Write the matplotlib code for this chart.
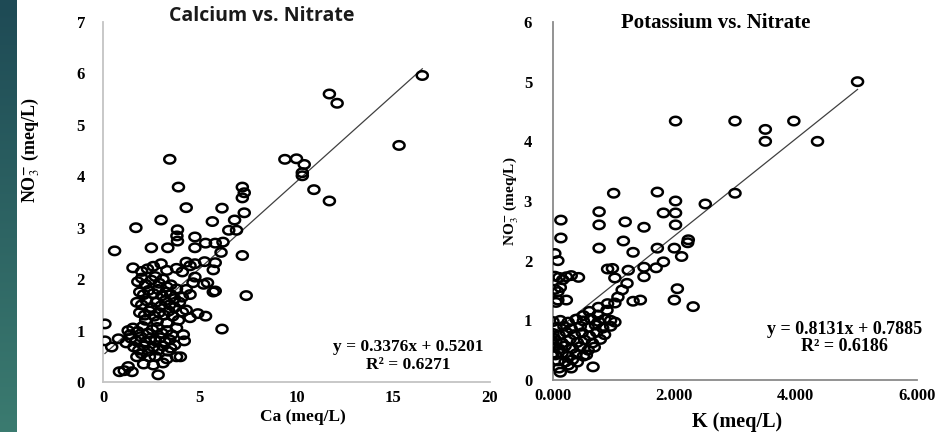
import numpy as np
import matplotlib
matplotlib.use("Agg")
import matplotlib.pyplot as plt
from matplotlib.path import Path

plt.rcParams['font.family'] = ['Liberation Serif', 'DejaVu Serif']
plt.rcParams['mathtext.fontset'] = 'stix'

# Calcium vs. Nitrate (meq/L)
ca = [16.5, 11.7, 12.1, 15.3, 9.4, 10.0, 10.4, 10.3, 10.3, 10.9, 11.7,
      3.45, 3.9, 7.2, 7.3, 7.2, 4.3, 6.15, 7.3, 3.0, 5.65, 6.8, 1.7,
      3.85, 3.82, 3.85, 6.5, 6.9, 4.75, 5.3, 5.8, 6.2,
      0.6, 2.5, 3.35, 4.75, 6.1, 7.2,
      4.3, 4.75, 5.25, 5.8, 4.5, 3.8, 1.55, 2.3, 3.3, 4.1, 5.7,
      4.75, 4.65, 5.2, 5.4, 3.5, 3.8, 5.8, 5.7, 7.4, 4.1,
      4.1, 4.5, 4.9, 5.3, 6.15, 4.15, 4.0,
      0.1, 0.1, 0.45, 0.8, 1.2, 1.75, 2.4, 3.5, 3.1, 3.8, 0.85, 1.1, 1.5, 2.85, 2.6, 1.3, 2.1, 3.3,
      1.8, 2.0, 2.2, 2.5, 2.7, 2.9, 3.1, 3.3, 1.9, 2.1, 2.35, 2.6, 2.85, 3.05, 3.25, 3.5, 3.7,
      1.75, 2.0, 2.25, 2.5, 2.75, 3.0, 3.2, 3.45, 3.7, 3.95, 1.9, 2.15, 2.4, 2.65, 2.9, 3.15,
      3.4, 3.6, 2.2, 2.8, 3.3, 3.9, 4.3, 4.3, 4.5, 2.0, 2.6, 3.0,
      1.3, 1.55, 1.8, 2.05, 2.3, 2.55, 2.8, 3.05, 3.3, 3.55, 1.45, 1.7, 1.95, 2.2, 2.45, 2.7,
      2.95, 3.2, 3.45, 1.6, 1.85, 2.1, 2.35, 2.6, 2.85, 3.1, 3.35, 3.7, 2.0, 2.7, 1.4, 3.8, 4.2]
no3_ca = [5.96, 5.6, 5.42, 4.6, 4.33, 4.34, 4.23, 4.07, 4.01, 3.74, 3.52,
          4.33, 3.79, 3.79, 3.68, 3.58, 3.39, 3.38, 3.29, 3.15, 3.12, 3.15, 3.0,
          2.96, 2.84, 2.74, 2.95, 2.95, 2.82, 2.7, 2.7, 2.72,
          2.55, 2.61, 2.61, 2.61, 2.52, 2.46,
          2.33, 2.3, 2.34, 2.32, 2.26, 2.21, 2.22, 2.2, 2.17, 2.14, 2.18,
          2.04, 1.93, 1.9, 1.93, 1.89, 1.81, 1.77, 1.75, 1.68, 1.65,
          1.36, 1.25, 1.33, 1.28, 1.03, 0.92, 0.49,
          1.13, 0.8, 0.68, 0.84, 0.76, 0.49, 0.49, 0.66, 0.37, 0.49, 0.2, 0.22, 0.2, 0.14, 0.33, 0.3, 0.35, 0.45,
          1.95, 2.02, 1.9, 1.98, 2.05, 1.92, 2.0, 1.85, 1.75, 1.7, 1.78, 1.72, 1.8, 1.68, 1.75, 1.7, 1.62,
          1.55, 1.5, 1.58, 1.45, 1.55, 1.48, 1.58, 1.5, 1.45, 1.55, 1.35, 1.3, 1.38, 1.28, 1.35, 1.3,
          1.38, 1.28, 1.2, 1.18, 1.15, 1.2, 1.4, 1.8, 1.7, 2.15, 2.25, 2.3,
          1.0, 1.05, 0.98, 1.08, 0.95, 1.02, 1.06, 0.95, 1.0, 0.92, 0.85, 0.8, 0.88, 0.78, 0.85, 0.8,
          0.86, 0.78, 0.82, 0.68, 0.62, 0.7, 0.6, 0.68, 0.62, 0.7, 0.6, 0.72, 0.55, 0.5, 0.92, 1.05, 0.8]

# Potassium vs. Nitrate (meq/L)
k = [5.02, 2.02, 3.0, 3.5, 3.5, 3.97, 4.36,
     1.0, 1.72, 2.02, 2.51, 3.0, 0.76, 1.82, 2.02, 0.13, 1.19,
     0.13, 0.76, 0.76, 1.5, 1.16, 1.32, 1.72, 2.02, 2.0, 2.12, 2.23, 2.22, 1.82, 1.7, 1.5, 1.5,
     1.24, 0.98, 0.9, 1.02, 1.22, 1.32, 1.44, 2.05, 2.0, 2.31,
     0.03, 0.08, 0.03, 0.1, 0.22, 0.3, 0.42, 0.03, 0.08, 0.12, 0.08, 0.22, 0.16, 0.05,
     0.66, 0.12, 0.25, 1.02, 1.07, 1.14, 0.89, 0.74, 0.95, 1.02, 0.6, 0.75, 0.9, 0.5,
     0.0, 0.12, 0.25, 0.38, 0.5, 0.62, 0.75, 0.85,
     0.05, 0.18, 0.3, 0.45, 0.58, 0.7, 0.82, 0.95,
     0.0, 0.1, 0.22, 0.35, 0.48, 0.6, 0.72, 0.85,
     0.05, 0.15, 0.28, 0.4, 0.52, 0.65, 0.78,
     0.0, 0.1, 0.2, 0.32, 0.45, 0.58,
     0.04, 0.15, 0.25, 0.38, 0.5, 0.08, 0.2, 0.32,
     0.0, 0.02, 0.0, 0.1, 0.3, 0.55, 0.68, 0.4]
no3_k = [5.0, 4.34, 4.34, 4.2, 4.0, 4.34, 4.0,
         3.13, 3.15, 3.0, 2.95, 3.13, 2.82, 2.8, 2.8, 2.68, 2.65,
         2.38, 2.6, 2.21, 2.56, 2.33, 2.14, 2.21, 2.6, 2.21, 2.07, 2.35, 2.3, 1.98, 1.88, 1.89, 1.73,
         1.84, 1.87, 1.86, 1.71, 1.62, 1.32, 1.34, 1.53, 1.34, 1.23,
         2.12, 2.0, 1.74, 1.72, 1.73, 1.75, 1.72, 1.52, 1.48, 1.55, 1.34, 1.34, 1.68, 1.3,
         0.22, 0.13, 0.25, 1.29, 1.39, 1.51, 1.17, 1.09, 1.0, 0.97, 1.15, 1.22, 1.28, 1.08,
         0.98, 1.0, 0.97, 1.02, 0.99, 1.03, 0.98, 1.02,
         0.88, 0.9, 0.86, 0.9, 0.88, 0.92, 0.87, 0.9,
         0.78, 0.75, 0.8, 0.76, 0.79, 0.74, 0.8, 0.76,
         0.66, 0.62, 0.68, 0.63, 0.67, 0.62, 0.68,
         0.55, 0.52, 0.57, 0.53, 0.56, 0.5,
         0.42, 0.45, 0.4, 0.44, 0.4, 0.32, 0.3, 0.34,
         0.6, 0.7, 0.45, 0.2, 0.2, 0.42, 0.55, 0.3]

ca_fit = (0.3376, 0.5201, 0.6271)
k_fit = (0.8131, 0.7885, 0.6186)

# slightly wide open circle, like the stretched original
t = np.linspace(0, 2 * np.pi, 60)
oval = Path(np.column_stack([1.3 * np.cos(t), np.sin(t)]), closed=True)

fig = plt.figure(figsize=(9.4, 4.32), dpi=100)

# teal strip on the left edge
strip = fig.add_axes([0, 0, 17 / 940, 1])
grad = np.linspace(0, 1, 256).reshape(-1, 1)
strip.imshow(grad, aspect='auto', cmap=matplotlib.colors.LinearSegmentedColormap.from_list(
    'teal', ['#1e4a55', '#3b7b70']))
strip.axis('off')

ax1 = fig.add_axes([103 / 940, 1 - 382 / 432, 387 / 940, 360 / 432])
ax2 = fig.add_axes([553 / 940, 1 - 380 / 432, 364 / 940, 358 / 432])


def panel(ax, x, y, fit, xmax, ymax, xticks, fmt, spine_col):
    ax.scatter(x, y, s=63, marker=oval, facecolors='none', edgecolors='black',
               linewidths=1.8, zorder=3)
    xs = np.array([min(x), max(x)])
    ax.plot(xs, fit[0] * xs + fit[1], color='#404040', lw=0.9, zorder=2)
    ax.set_xlim(0, xmax)
    ax.set_ylim(0, ymax)
    ax.set_xticks(xticks)
    ax.set_xticklabels([fmt % v for v in xticks])
    ax.set_yticks(range(ymax + 1))
    for s in ['top', 'right']:
        ax.spines[s].set_visible(False)
    for s in ['left', 'bottom']:
        ax.spines[s].set_color(spine_col)
        ax.spines[s].set_linewidth(1.3)
    ax.tick_params(length=0, labelsize=12)
    for lab in ax.get_xticklabels() + ax.get_yticklabels():
        lab.set_fontweight('bold')


panel(ax1, ca, no3_ca, ca_fit, 20, 7, [0, 5, 10, 15, 20], '%d', '#c4c4c4')
panel(ax2, k, no3_k, k_fit, 6, 6, [0, 2, 4, 6], '%.3f', '#8a8a8a')
ax1.tick_params(axis='y', pad=13)
ax1.tick_params(axis='x', pad=6)
ax2.tick_params(axis='y', pad=15)
ax2.tick_params(axis='x', pad=6)

ylab = r'NO$_3^{\mathbf{-}}$ (meq/L)'
ax1.text(-0.186, 0.644, ylab, transform=ax1.transAxes, rotation=90, ha='center',
         va='center', fontsize=13, fontweight='bold')
ax2.text(-0.115, 0.5, ylab, transform=ax2.transAxes, rotation=90, ha='center',
         va='center', fontsize=11, fontweight='bold')
ax1.text(0.517, -0.097, 'Ca (meq/L)', transform=ax1.transAxes, ha='center',
         va='center', fontsize=12.5, fontweight='bold')
ax2.text(0.505, -0.118, 'K (meq/L)', transform=ax2.transAxes, ha='center',
         va='center', fontsize=14.5, fontweight='bold')

ax1.text(0.788, 0.072, 'y = %.4fx + %.4f\nR² = %.4f' % ca_fit, transform=ax1.transAxes,
         ha='center', va='center', multialignment='center', fontsize=12.5,
         fontweight='bold', linespacing=1.1)
ax2.text(0.802, 0.117, 'y = %.4fx + %.4f\nR² = %.4f' % k_fit, transform=ax2.transAxes,
         ha='center', va='center', multialignment='center', fontsize=13,
         fontweight='bold', linespacing=1.0)

fig.text(262 / 940, 1 - 16 / 432, 'Calcium vs. Nitrate', ha='center', va='center',
         fontsize=14, fontweight='bold', family=['Open Sans', 'DejaVu Sans'], color='#1a1a1a')
fig.text(716 / 940, 1 - 23 / 432, 'Potassium vs. Nitrate', ha='center', va='center',
         fontsize=15, fontweight='bold')

fig.savefig('out.png', dpi=100)
